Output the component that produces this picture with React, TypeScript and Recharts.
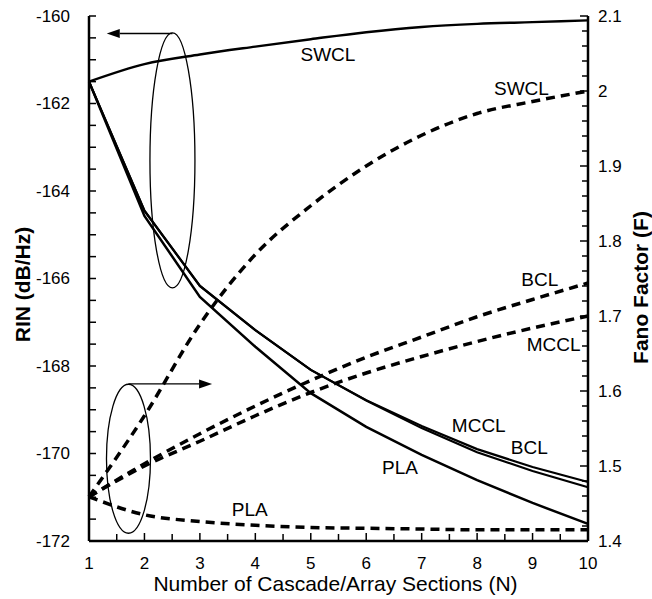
import React from 'react';
import { ComposedChart, Line, XAxis, YAxis, ReferenceDot, ReferenceLine, Label } from 'recharts';

// number of cascade / array sections
const sections = [1, 2, 3, 4, 5, 6, 7, 8, 9, 10];

// RIN (dB/Hz), solid curves, left axis
const rinSWCL = [-161.5, -161.1, -160.88, -160.7, -160.53, -160.37, -160.25, -160.18, -160.14, -160.1];
const rinMCCL = [-161.5, -164.45, -166.17, -167.18, -168.09, -168.78, -169.37, -169.9, -170.31, -170.65];
const rinBCL = [-161.5, -164.45, -166.17, -167.18, -168.09, -168.79, -169.42, -169.97, -170.4, -170.77];
const rinPLA = [-161.5, -164.57, -166.42, -167.56, -168.62, -169.39, -170.03, -170.61, -171.13, -171.61];

// Fano factor, dashed curves, right axis
const fanoSWCL = [1.459, 1.567, 1.689, 1.782, 1.847, 1.9, 1.941, 1.97, 1.986, 2.0];
const fanoBCL = [1.459, 1.503, 1.543, 1.58, 1.614, 1.645, 1.672, 1.699, 1.722, 1.744];
const fanoMCCL = [1.459, 1.5, 1.533, 1.567, 1.598, 1.624, 1.646, 1.666, 1.684, 1.7];
const fanoPLA = [1.459, 1.435, 1.426, 1.421, 1.418, 1.417, 1.416, 1.415, 1.415, 1.415];

const xTicks = [1, 1.5, 2, 2.5, 3, 3.5, 4, 4.5, 5, 5.5, 6, 6.5, 7, 7.5, 8, 8.5, 9, 9.5, 10];
const rinTicks = [
  -172, -171.5, -171, -170.5, -170, -169.5, -169, -168.5, -168, -167.5, -167, -166.5, -166,
  -165.5, -165, -164.5, -164, -163.5, -163, -162.5, -162, -161.5, -161, -160.5, -160,
];
const rinLabelTicks = [-172, -170, -168, -166, -164, -162, -160];
const fanoTicks = [
  1.4, 1.42, 1.44, 1.46, 1.48, 1.5, 1.52, 1.54, 1.56, 1.58, 1.6, 1.62, 1.64, 1.66, 1.68, 1.7,
  1.72, 1.74, 1.76, 1.78, 1.8, 1.82, 1.84, 1.86, 1.88, 1.9, 1.92, 1.94, 1.96, 1.98, 2.0, 2.02,
  2.04, 2.06, 2.08, 2.1,
];
const fanoLabelTicks = [1.4, 1.5, 1.6, 1.7, 1.8, 1.9, 2.0, 2.1];

// curve names written on the plot
const rinNotes = [
  { text: 'SWCL', n: 5.31, v: -160.87 },
  { text: 'MCCL', n: 8.03, v: -169.36 },
  { text: 'BCL', n: 8.94, v: -169.86 },
  { text: 'PLA', n: 6.61, v: -170.32 },
];
const fanoNotes = [
  { text: 'SWCL', n: 8.8, v: 2.003 },
  { text: 'BCL', n: 9.13, v: 1.749 },
  { text: 'MCCL', n: 9.38, v: 1.662 },
  { text: 'PLA', n: 3.9, v: 1.442 },
];

const chartData = sections.map((n, i) => ({
  n,
  rinSWCL: rinSWCL[i],
  rinMCCL: rinMCCL[i],
  rinBCL: rinBCL[i],
  rinPLA: rinPLA[i],
  fanoSWCL: fanoSWCL[i],
  fanoBCL: fanoBCL[i],
  fanoMCCL: fanoMCCL[i],
  fanoPLA: fanoPLA[i],
}));

const FONT = '"Liberation Sans", Arial, Helvetica, sans-serif';
const near = (a: number, list: number[]) => list.some((b) => Math.abs(a - b) < 1e-6);

function BottomTick({ x, y, payload }: any) {
  const major = Number.isInteger(payload.value);
  return (
    <g>
      <line x1={x} y1={y} x2={x} y2={y - (major ? 8 : 7)} stroke="#000" strokeWidth={1.5} />
      {major && (
        <text x={x} y={y + 28} textAnchor="middle" fontSize={17} fontFamily={FONT} fill="#000">
          {payload.value}
        </text>
      )}
    </g>
  );
}

function TopTick({ x, y }: any) {
  return <line x1={x} y1={y} x2={x} y2={y + 8} stroke="#000" strokeWidth={1.5} />;
}

function LeftTick({ x, y, payload }: any) {
  const major = near(payload.value, rinLabelTicks);
  return (
    <g>
      <line x1={x} y1={y} x2={x + 7} y2={y} stroke="#000" strokeWidth={1.5} />
      {major && (
        <text x={x - 19} y={y} textAnchor="end" dominantBaseline="central" fontSize={17} fontFamily={FONT} fill="#000">
          {payload.value}
        </text>
      )}
    </g>
  );
}

function RightTick({ x, y, payload }: any) {
  const major = near(payload.value, fanoLabelTicks);
  return (
    <g>
      <line x1={x} y1={y} x2={x - (major ? 8 : 6)} y2={y} stroke="#000" strokeWidth={1.5} />
      {major && (
        <text x={x + 10} y={y} textAnchor="start" dominantBaseline="central" fontSize={17} fontFamily={FONT} fill="#000">
          {Number(payload.value.toFixed(1)) === 2 ? '2' : payload.value}
        </text>
      )}
    </g>
  );
}

function Arrow(props: any) {
  const { x1, y1, x2, y2 } = props;
  const dir = Math.sign(x2 - x1);
  const len = 13;
  const half = 4.5;
  return (
    <g>
      <line x1={x1} y1={y1} x2={x2 - dir * len} y2={y2} stroke="#000" strokeWidth={1.3} />
      <polygon points={`${x2},${y2} ${x2 - dir * len},${y2 - half} ${x2 - dir * len},${y2 + half}`} fill="#000" />
    </g>
  );
}

const ellipse = (rx: number, ry: number) => (p: any) => (
  <ellipse cx={p.cx} cy={p.cy} rx={rx} ry={ry} fill="none" stroke="#000" strokeWidth={1.3} />
);

const note = (text: string) => (p: any) => (
  <text x={p.cx} y={p.cy} textAnchor="middle" dominantBaseline="central" fontSize={19} fontFamily={FONT} fill="#000">
    {text}
  </text>
);

const axisLine = { stroke: '#000', strokeWidth: 2.5 };

export default function App() {
  return (
    <div style={{ position: 'absolute', left: 0, top: 0, background: '#fff' }}>
      <ComposedChart width={652} height={599} data={chartData} margin={{ top: 16, right: 0, bottom: 0, left: 0 }}>
        <XAxis
          xAxisId="bottom"
          dataKey="n"
          type="number"
          domain={[1, 10]}
          ticks={xTicks}
          interval={0}
          height={58}
          axisLine={axisLine}
          tickLine={false}
          tickSize={0}
          tickMargin={0}
          tick={<BottomTick />}
        >
          <Label
            content={({ viewBox }: any) => (
              <text
                x={viewBox.x + viewBox.width / 2 - 3}
                y={viewBox.y + 50}
                textAnchor="middle"
                fontSize={21}
                fontFamily={FONT}
                fill="#000"
              >
                Number of Cascade/Array Sections (N)
              </text>
            )}
          />
        </XAxis>
        <XAxis
          xAxisId="top"
          orientation="top"
          dataKey="n"
          type="number"
          domain={[1, 10]}
          ticks={xTicks}
          interval={0}
          height={0}
          axisLine={axisLine}
          tickLine={false}
          tickSize={0}
          tickMargin={0}
          tick={<TopTick />}
        />
        <YAxis
          yAxisId="left"
          type="number"
          domain={[-172, -160]}
          ticks={rinTicks}
          interval={0}
          width={89}
          axisLine={axisLine}
          tickLine={false}
          tickSize={0}
          tickMargin={0}
          tick={<LeftTick />}
        >
          <Label
            content={({ viewBox }: any) => (
              <text
                transform={`translate(${viewBox.x + 22},${viewBox.y + viewBox.height / 2 + 6}) rotate(-90)`}
                textAnchor="middle"
                dominantBaseline="central"
                fontSize={21}
                fontWeight="bold"
                fontFamily={FONT}
                fill="#000"
              >
                RIN (dB/Hz)
              </text>
            )}
          />
        </YAxis>
        <YAxis
          yAxisId="right"
          orientation="right"
          type="number"
          domain={[1.4, 2.1]}
          ticks={fanoTicks}
          interval={0}
          width={64}
          axisLine={axisLine}
          tickLine={false}
          tickSize={0}
          tickMargin={0}
          tick={<RightTick />}
        >
          <Label
            content={({ viewBox }: any) => (
              <text
                transform={`translate(${viewBox.x + 52},${viewBox.y + viewBox.height / 2 + 9}) rotate(-90)`}
                textAnchor="middle"
                dominantBaseline="central"
                fontSize={21}
                fontWeight="bold"
                fontFamily={FONT}
                fill="#000"
              >
                Fano Factor (F)
              </text>
            )}
          />
        </YAxis>

        <Line xAxisId="bottom" yAxisId="left" dataKey="rinSWCL" type="monotone" stroke="#000" strokeWidth={2.5} dot={false} isAnimationActive={false} />
        <Line xAxisId="bottom" yAxisId="left" dataKey="rinMCCL" type="linear" stroke="#000" strokeWidth={2.2} dot={false} isAnimationActive={false} />
        <Line xAxisId="bottom" yAxisId="left" dataKey="rinBCL" type="linear" stroke="#000" strokeWidth={2.2} dot={false} isAnimationActive={false} />
        <Line xAxisId="bottom" yAxisId="left" dataKey="rinPLA" type="linear" stroke="#000" strokeWidth={2.5} dot={false} isAnimationActive={false} />

        <Line xAxisId="bottom" yAxisId="right" dataKey="fanoSWCL" type="monotone" stroke="#000" strokeWidth={3.5} strokeDasharray="9 6" dot={false} isAnimationActive={false} />
        <Line xAxisId="bottom" yAxisId="right" dataKey="fanoBCL" type="monotone" stroke="#000" strokeWidth={3.5} strokeDasharray="9 6" dot={false} isAnimationActive={false} />
        <Line xAxisId="bottom" yAxisId="right" dataKey="fanoMCCL" type="monotone" stroke="#000" strokeWidth={3.5} strokeDasharray="9 6" dot={false} isAnimationActive={false} />
        <Line xAxisId="bottom" yAxisId="right" dataKey="fanoPLA" type="monotone" stroke="#000" strokeWidth={3.5} strokeDasharray="9 6" dot={false} isAnimationActive={false} />

        {/* ellipses pointing to the axis each group belongs to */}
        <ReferenceDot xAxisId="bottom" yAxisId="left" x={2.505} y={-163.3} shape={ellipse(22.5, 127.5)} />
        <ReferenceLine
          xAxisId="bottom"
          yAxisId="left"
          segment={[{ x: 2.505, y: -160.4 }, { x: 1.32, y: -160.4 }]}
          shape={Arrow}
        />
        <ReferenceDot xAxisId="bottom" yAxisId="left" x={1.712} y={-170.12} shape={ellipse(22, 74.5)} />
        <ReferenceLine
          xAxisId="bottom"
          yAxisId="left"
          segment={[{ x: 1.712, y: -168.41 }, { x: 3.22, y: -168.41 }]}
          shape={Arrow}
        />

        {rinNotes.map((d) => (
          <ReferenceDot key={'r' + d.text} xAxisId="bottom" yAxisId="left" x={d.n} y={d.v} shape={note(d.text)} />
        ))}
        {fanoNotes.map((d) => (
          <ReferenceDot key={'f' + d.text} xAxisId="bottom" yAxisId="right" x={d.n} y={d.v} shape={note(d.text)} />
        ))}
      </ComposedChart>
    </div>
  );
}
